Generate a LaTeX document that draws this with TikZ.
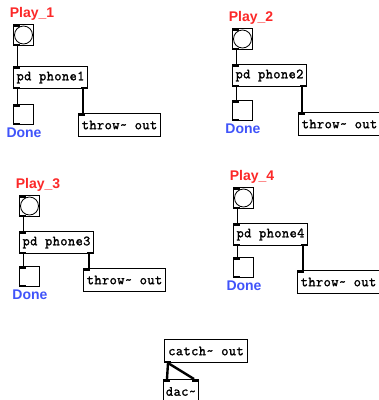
\documentclass[tikz,border=0pt]{standalone}
\usepackage{fontspec}
\newfontfamily\pdmono{Latin Modern Mono}[LetterSpace=3,FakeBold=1.6]
\newfontfamily\pdsans{Liberation Sans}
\usetikzlibrary{calc}
\definecolor{playred}{RGB}{252,40,40}
\definecolor{doneblue}{RGB}{64,84,250}
\tikzset{
  obj/.style={draw=black, line width=1pt, fill=white, inner sep=0pt, anchor=north west,
    font=\pdmono\fontsize{14}{15}\selectfont, minimum height=22pt},
  sq/.style={draw=black, line width=1pt, fill=white, inner sep=0pt, anchor=north west,
    minimum width=20pt, minimum height=20pt},
  playlbl/.style={text=playred, font=\pdsans\bfseries\fontsize{14}{15}\selectfont, inner sep=0pt},
  donelbl/.style={text=doneblue, font=\pdsans\bfseries\fontsize{14}{15}\selectfont, inner sep=0pt},
  ctl/.style={line width=1pt, black},
  sig/.style={line width=2.4pt, black},
  port/.style={fill=black, draw=none}
}
\newcommand{\inlet}[1]{\fill[port] ($(#1.north west)$) rectangle ++(7,2.5);}
\newcommand{\outlet}[1]{\fill[port] ($(#1.south west)$) rectangle ++(7,-2.5);}
\newcommand{\outletR}[1]{\fill[port] ($(#1.south east)$) rectangle ++(-7,-2.5);}
\newcommand{\inletR}[1]{\fill[port] ($(#1.north east)$) rectangle ++(-7,2.5);}
\newcommand{\phonegroup}[8]{%
  % #1 suffix, #2 x, #3 ylabel, #4 ybang, #5 ypd, #6 ytoggle, #7 xthrow, #8 ythrow
  \node[playlbl] (play#1) at (#2+19,#3) {Play\_#1};
  \node[sq, minimum height=21pt] (bang#1) at (#2,#4) {};
  \draw[line width=0.8pt] (bang#1.center) circle (9pt);
  \node[obj, minimum width=74pt] (pd#1) at (#2,#5) {pd phone#1};
  \node[sq] (tgl#1) at (#2,#6) {};
  \node[donelbl] (done#1) at (#2+11,#6+29) {Done};
  \node[obj, minimum width=82pt, minimum height=23pt] (throw#1) at (#7,#8) {throw\textasciitilde{} out};
  \draw[ctl] ($(bang#1.south west)+(4,0)$) -- ($(pd#1.north west)+(4,0)$);
  \draw[ctl] ($(pd#1.south west)+(4,0)$) -- ($(tgl#1.north west)+(4,0)$);
  \coordinate (o#1) at ($(pd#1.south east)+(-5,0)$);
  \draw[sig] (o#1) -- (o#1 |- throw#1.north);
  \inlet{bang#1}\outlet{bang#1}
  \inlet{pd#1}\outlet{pd#1}\outletR{pd#1}
  \inlet{tgl#1}\outlet{tgl#1}
  \inlet{throw#1}
}
\begin{document}
\begin{tikzpicture}[x=1pt,y=-1pt]
\useasboundingbox[fill=white] (0,0) rectangle (379,400);
\phonegroup{1}{13}{14}{24}{66}{104}{78}{113}
\phonegroup{2}{232}{18}{28}{64}{100}{298}{112}
\phonegroup{3}{19}{185}{195}{231}{266}{83}{268}
\phonegroup{4}{233}{177}{187}{223}{257}{297}{270}
\node[obj, minimum width=83pt, minimum height=23pt] (catch) at (164,339) {catch\textasciitilde{} out};
\node[obj, minimum width=35pt, minimum height=24pt] (dac) at (163,379) {dac\textasciitilde};
\draw[sig] ($(catch.south west)+(4,0)$) -- ($(dac.north west)+(4,0)$);
\draw[sig] ($(catch.south west)+(4,0)$) -- ($(dac.north east)+(-5,0)$);
\outlet{catch}
\inlet{dac}\inletR{dac}
\end{tikzpicture}
\end{document}
